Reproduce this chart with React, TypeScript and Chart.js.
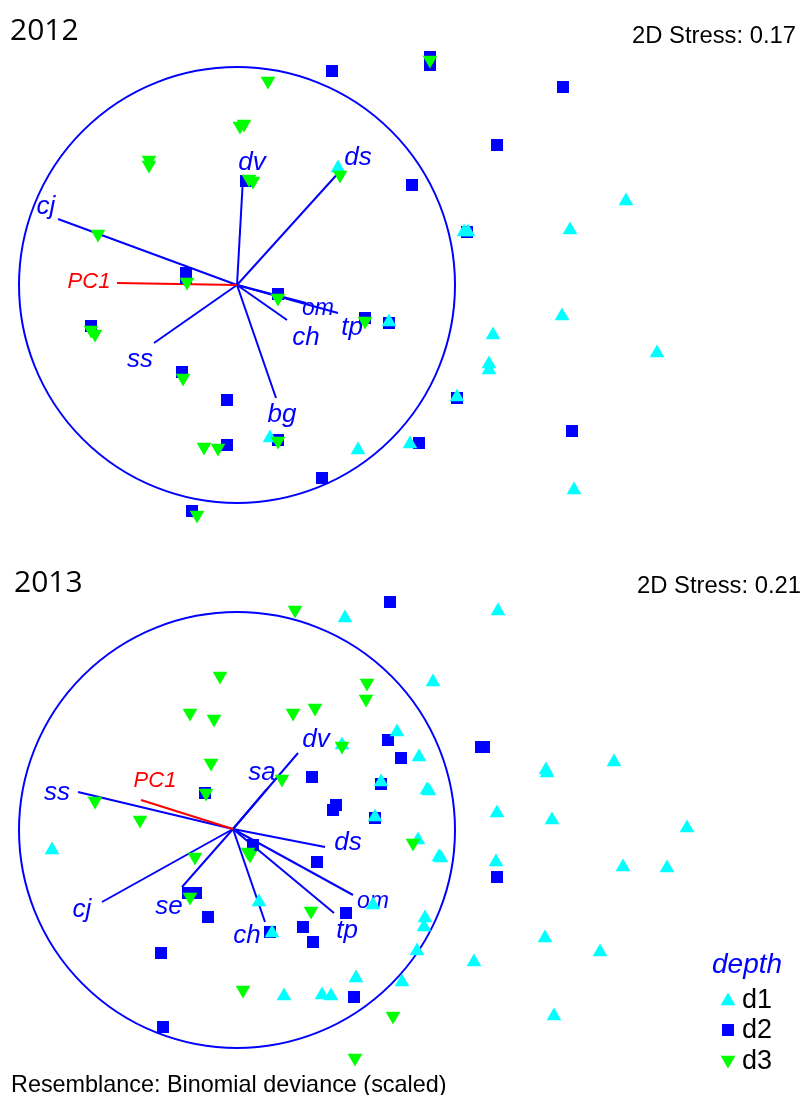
import React, { useEffect, useRef } from 'react';
import { Chart, registerables } from 'chart.js';

Chart.register(...registerables);

type P = [number, number];

// ---------- 2012 panel ----------
const d1_2012: P[] = [
  [338, 168], [464, 232], [468, 232], [570, 230], [626, 201], [493, 335], [562, 316], [657, 353],
  [489, 364], [489, 370], [457, 397], [389, 322], [410, 444], [574, 490], [358, 450], [270, 438],
];
const d2_2012: P[] = [
  [332, 71], [430, 57], [430, 65], [563, 87], [497, 145], [412, 185], [467, 232], [246, 181],
  [186, 273], [186, 278], [278, 294], [365, 318], [389, 323], [91, 326], [182, 372], [227, 400],
  [227, 445], [278, 440], [457, 398], [419, 443], [572, 431], [322, 478], [192, 511],
];
const d3_2012: P[] = [
  [430, 60], [268, 81], [240, 126], [244, 124], [149, 160], [149, 165], [253, 181], [249, 179],
  [340, 175], [98, 234], [187, 282], [278, 298], [91, 330], [95, 334], [183, 378], [204, 447],
  [218, 448], [278, 441], [197, 515], [365, 321],
];
const vecNames2012 = ['cj', 'dv', 'ds', 'om', 'tp', 'ch', 'ss', 'bg'];
const vecEnds2012: P[] = [
  [58, 219], [243, 178], [341, 170], [338, 313], [306, 303], [287, 320], [154, 343], [276, 398],
];
const origin2012: P = [237, 285];
const pc1End2012: P = [117, 283];

// ---------- 2013 panel ----------
const d1_2013: P[] = [
  [345, 618], [498, 611], [433, 682], [397, 732], [342, 745], [419, 757], [429, 791], [427, 790],
  [375, 817], [381, 782], [497, 813], [418, 840], [439, 857], [441, 858], [496, 862], [546, 770],
  [547, 773], [614, 762], [552, 820], [687, 828], [623, 867], [667, 868], [52, 850], [259, 902],
  [373, 905], [425, 918], [424, 927], [417, 951], [402, 982], [545, 938], [600, 952], [474, 962],
  [554, 1016], [284, 996], [322, 995], [331, 996], [356, 978], [272, 933],
];
const d2_2013: P[] = [
  [390, 602], [388, 740], [401, 758], [481, 747], [484, 747], [312, 777], [381, 784], [336, 805],
  [333, 810], [375, 818], [205, 793], [253, 845], [317, 862], [497, 877], [188, 893], [196, 893],
  [208, 917], [346, 913], [303, 927], [270, 932], [313, 942], [161, 953], [354, 997], [163, 1027],
];
const d3_2013: P[] = [
  [295, 610], [367, 683], [366, 699], [315, 708], [293, 713], [220, 676], [190, 713], [214, 719],
  [342, 746], [211, 763], [282, 779], [206, 793], [95, 801], [140, 820], [248, 852], [250, 855],
  [195, 857], [413, 843], [190, 897], [311, 911], [243, 990], [393, 1016], [355, 1058],
];
const vecNames2013 = ['ss', 'dv', 'sa', 'ds', 'om', 'tp', 'ch', 'se', 'cj'];
const vecEnds2013: P[] = [
  [78, 792], [298, 753], [267, 789], [325, 847], [353, 895], [334, 913], [265, 922], [182, 887], [102, 902],
];
const origin2013: P = [233, 829];
const pc1End2013: P = [141, 800];

const legendLabels = ['d1', 'd2', 'd3'];

// ---------- layout (positions of annotations) ----------
interface Panel {
  year: string;
  stress: string;
  yMin: number;
  yMax: number;
  d1: P[]; d2: P[]; d3: P[];
  names: string[]; ends: P[]; origin: P; pc1: P;
  labelPos: P[]; pc1Label: P;
  circle: P; radius: number;
  titlePos: P; stressPos: P;
  bottom: boolean;
}

const panels: Panel[] = [
  {
    year: '2012', stress: '0.17', yMin: 0, yMax: 548,
    d1: d1_2012, d2: d2_2012, d3: d3_2012,
    names: vecNames2012, ends: vecEnds2012, origin: origin2012, pc1: pc1End2012,
    labelPos: [[46, 214], [252, 170], [358, 165], [318, 315], [352, 335], [306, 345], [140, 367], [282, 422]],
    pc1Label: [89, 288],
    circle: [237, 285], radius: 218,
    titlePos: [10, 40], stressPos: [796, 43], bottom: false,
  },
  {
    year: '2013', stress: '0.21', yMin: 548, yMax: 1095,
    d1: d1_2013, d2: d2_2013, d3: d3_2013,
    names: vecNames2013, ends: vecEnds2013, origin: origin2013, pc1: pc1End2013,
    labelPos: [[57, 800], [316, 747], [262, 780], [348, 850], [373, 908], [347, 938], [247, 943], [169, 914], [82, 917]],
    pc1Label: [155, 787],
    circle: [237, 830], radius: 218,
    titlePos: [14, 592], stressPos: [801, 593], bottom: true,
  },
];

const BLUE = '#0000ff';
const CYAN = '#00ffff';
const GREEN = '#00ff00';
const FONT = '"Liberation Sans", Arial, sans-serif';

const toXY = (a: P[]) => a.map(([x, y]) => ({ x, y }));

function tri(ctx: CanvasRenderingContext2D, x: number, y: number, r: number, down: boolean) {
  const s = down ? -1 : 1;
  ctx.beginPath();
  ctx.moveTo(x, y - s * r);
  ctx.lineTo(x + r * Math.sqrt(3) / 2, y + s * r / 2);
  ctx.lineTo(x - r * Math.sqrt(3) / 2, y + s * r / 2);
  ctx.closePath();
  ctx.fill();
}

function makeOverlay(p: Panel) {
  return {
    id: 'overlay' + p.year,
    beforeDatasetsDraw(chart: any) {
      const { ctx } = chart;
      const xs = chart.scales.x;
      const ys = chart.scales.y;
      const px = (v: number) => xs.getPixelForValue(v);
      const py = (v: number) => ys.getPixelForValue(v);
      ctx.save();
      // circle
      const cx = px(p.circle[0]);
      const cy = py(p.circle[1]);
      const r = px(p.circle[0] + p.radius) - cx;
      ctx.beginPath();
      ctx.arc(cx, cy, r, 0, Math.PI * 2);
      ctx.strokeStyle = BLUE;
      ctx.lineWidth = 2;
      ctx.stroke();
      // vector labels
      ctx.textAlign = 'center';
      ctx.textBaseline = 'alphabetic';
      ctx.fillStyle = BLUE;
      p.names.forEach((n, i) => {
        ctx.font = `italic ${n === 'om' ? 23 : 26}px ${FONT}`;
        ctx.fillText(n, px(p.labelPos[i][0]), py(p.labelPos[i][1]));
      });
      ctx.fillStyle = '#ff0000';
      ctx.font = `italic 22px ${FONT}`;
      ctx.fillText('PC1', px(p.pc1Label[0]), py(p.pc1Label[1]));
      // title & stress
      ctx.fillStyle = '#000';
      ctx.textAlign = 'left';
      ctx.font = `30px "Open Sans", ${FONT}`;
      ctx.fillText(p.year, px(p.titlePos[0]), py(p.titlePos[1]));
      ctx.textAlign = 'right';
      ctx.font = `23.8px ${FONT}`;
      ctx.fillText('2D Stress: ' + p.stress, px(p.stressPos[0]), py(p.stressPos[1]));
      ctx.restore();
    },
    afterDraw(chart: any) {
      if (!p.bottom) return;
      const { ctx } = chart;
      const xs = chart.scales.x;
      const ys = chart.scales.y;
      const px = (v: number) => xs.getPixelForValue(v);
      const py = (v: number) => ys.getPixelForValue(v);
      ctx.save();
      ctx.textAlign = 'left';
      ctx.textBaseline = 'alphabetic';
      ctx.fillStyle = BLUE;
      ctx.font = `italic 28px ${FONT}`;
      ctx.fillText('depth', px(712), py(973));
      const rows = [1000, 1030, 1062];
      const base = [1008, 1038, 1069];
      legendLabels.forEach((lab, i) => {
        const mx = px(728);
        const my = py(rows[i]);
        if (i === 0) { ctx.fillStyle = CYAN; tri(ctx, mx, my + 1, 8.5, false); }
        if (i === 1) { ctx.fillStyle = BLUE; ctx.fillRect(mx - 6, my - 6, 12, 12); }
        if (i === 2) { ctx.fillStyle = GREEN; tri(ctx, mx, my - 2, 8.5, true); }
        ctx.fillStyle = '#000';
        ctx.font = `27px ${FONT}`;
        ctx.fillText(lab, px(742), py(base[i]));
      });
      ctx.fillStyle = '#000';
      ctx.font = `23.4px ${FONT}`;
      ctx.fillText('Resemblance: Binomial deviance (scaled)', px(11), py(1092));
      ctx.restore();
    },
  };
}

function PanelChart({ p }: { p: Panel }) {
  const ref = useRef<HTMLCanvasElement | null>(null);
  useEffect(() => {
    if (!ref.current) return;
    const vectorSets = p.names.map((n, i) => ({
      label: n,
      data: toXY([p.origin, p.ends[i]]),
      showLine: true,
      borderColor: BLUE,
      borderWidth: 2,
      pointRadius: 0,
      order: 5,
    }));
    const chart = new Chart(ref.current, {
      type: 'scatter',
      data: {
        datasets: [
          ...vectorSets,
          {
            label: 'PC1',
            data: toXY([p.origin, p.pc1]),
            showLine: true,
            borderColor: '#ff0000',
            borderWidth: 2,
            pointRadius: 0,
            order: 4,
          },
          {
            label: 'd2', data: toXY(p.d2), pointStyle: 'rect', pointRadius: 8.5,
            backgroundColor: BLUE, borderColor: BLUE, borderWidth: 0, order: 3,
          },
          {
            label: 'd1', data: toXY(p.d1), pointStyle: 'triangle', pointRadius: 8.5,
            backgroundColor: CYAN, borderColor: CYAN, borderWidth: 0, order: 2,
          },
          {
            label: 'd3', data: toXY(p.d3), pointStyle: 'triangle', rotation: 180, pointRadius: 8.5,
            backgroundColor: GREEN, borderColor: GREEN, borderWidth: 0, order: 1,
          },
        ] as any,
      },
      options: {
        animation: false,
        responsive: false,
        events: [],
        layout: { padding: 0, autoPadding: false },
        plugins: { legend: { display: false }, tooltip: { enabled: false } },
        scales: {
          x: { type: 'linear', min: 0, max: 802, display: false },
          y: { type: 'linear', min: p.yMin, max: p.yMax, reverse: true, display: false },
        },
      } as any,
      plugins: [makeOverlay(p)],
    });
    return () => chart.destroy();
  }, [p]);
  return (
    <canvas
      ref={ref}
      width={802}
      height={p.yMax - p.yMin}
      style={{ display: 'block', width: 802, height: p.yMax - p.yMin }}
    />
  );
}

export default function App() {
  return (
    <div style={{ position: 'absolute', left: 0, top: 0, width: 802, height: 1095, background: '#fff' }}>
      {panels.map((p) => (
        <PanelChart key={p.year} p={p} />
      ))}
    </div>
  );
}
